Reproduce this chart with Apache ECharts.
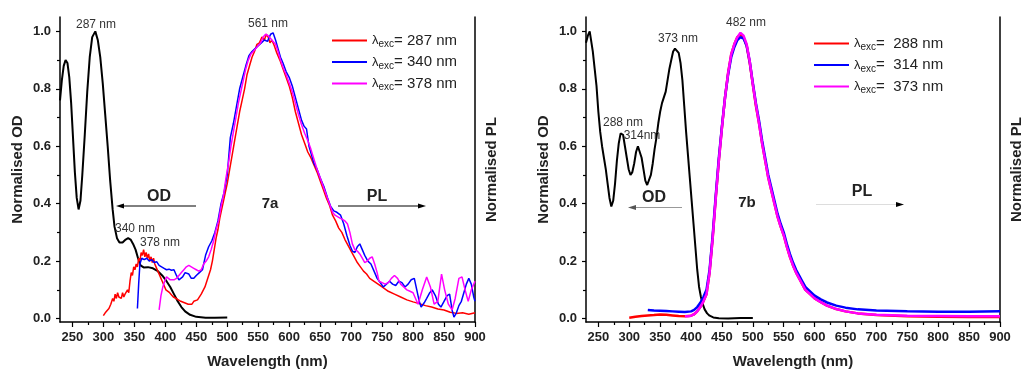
<!DOCTYPE html>
<html>
<head>
<meta charset="utf-8">
<script src="https://cdn.jsdelivr.net/npm/echarts@6/dist/echarts.min.js"></script>
<style>
html,body{margin:0;padding:0;background:#fff}
#main{width:1024px;height:377px}
</style>
</head>
<body>
<div id="main"></div>
<script>
// tick positions
var xTicks = [250,300,350,400,450,500,550,600,650,700,750,800,850,900];
var xMinor = [275,325,375,425,475,525,575,625,675,725,775,825,875];
var yTicks = [0,0.2,0.4,0.6,0.8,1.0];
var yMinor = [0.1,0.3,0.5,0.7,0.9];

// 7a: absorption (OD)
var odA = [[230,0.76],[233,0.83],[236,0.88],[239,0.90],[242,0.89],[245,0.84],[248,0.75],[251,0.63],[254,0.51],[257,0.42],[260,0.38],[263,0.41],[266,0.50],[270,0.64],[274,0.79],[278,0.91],[282,0.98],[287,1.0],[291,0.97],[295,0.91],[299,0.82],[303,0.71],[307,0.60],[311,0.48],[315,0.38],[318,0.32],[322,0.28],[326,0.265],[331,0.265],[336,0.275],[340,0.28],[344,0.275],[348,0.26],[352,0.24],[356,0.21],[360,0.185],[365,0.178],[372,0.179],[380,0.175],[388,0.165],[395,0.15],[402,0.13],[408,0.11],[414,0.085],[420,0.06],[426,0.04],[432,0.025],[440,0.013],[450,0.006],[465,0.003],[480,0.003],[500,0.004]];

// 7a: PL, exc 287 nm
var plA287 = [[300,0.01],[303,0.02],[306,0.015],[309,0.035],[312,0.05],[315,0.07],[317,0.06],[319,0.085],[321,0.07],[323,0.09],[325,0.075],[327,0.08],[329,0.07],[331,0.09],[333,0.075],[335,0.085],[337,0.08],[339,0.1],[341,0.09],[343,0.13],[345,0.16],[347,0.15],[349,0.18],[351,0.17],[353,0.19],[355,0.18],[357,0.21],[359,0.2],[361,0.23],[363,0.22],[365,0.24],[367,0.215],[369,0.23],[371,0.21],[373,0.225],[375,0.2],[377,0.215],[379,0.195],[381,0.21],[383,0.19],[385,0.18],[387,0.17],[389,0.16],[391,0.15],[393,0.14],[395,0.13],[398,0.115],[401,0.1],[404,0.1],[407,0.09],[410,0.085],[413,0.075],[416,0.075],[419,0.068],[422,0.07],[425,0.06],[428,0.065],[431,0.055],[434,0.06],[437,0.05],[440,0.055],[443,0.05],[446,0.06],[449,0.058],[452,0.065],[455,0.07],[458,0.085],[461,0.09],[464,0.11],[467,0.13],[470,0.15],[473,0.17],[476,0.2],[479,0.24],[482,0.28],[485,0.31],[488,0.35],[491,0.38],[494,0.41],[497,0.44],[500,0.47],[504,0.52],[508,0.57],[512,0.62],[516,0.67],[520,0.72],[524,0.76],[528,0.80],[532,0.85],[536,0.88],[540,0.91],[544,0.93],[548,0.955],[552,0.96],[556,0.98],[560,0.97],[563,0.99],[566,0.98],[569,0.96],[572,0.97],[576,0.95],[580,0.925],[585,0.9],[590,0.87],[595,0.84],[600,0.81],[605,0.77],[610,0.72],[615,0.68],[620,0.64],[625,0.61],[630,0.58],[635,0.56],[640,0.535],[645,0.51],[650,0.48],[655,0.45],[660,0.42],[665,0.395],[670,0.36],[675,0.34],[680,0.315],[685,0.3],[690,0.275],[695,0.255],[700,0.235],[705,0.215],[710,0.195],[715,0.18],[720,0.165],[725,0.155],[730,0.14],[740,0.125],[750,0.11],[760,0.095],[770,0.085],[780,0.075],[790,0.065],[800,0.058],[810,0.052],[820,0.045],[830,0.04],[840,0.033],[850,0.03],[860,0.022],[870,0.018],[880,0.02],[890,0.015],[900,0.02]];

// 7a: PL, exc 340 nm
var plA340 = [[355,0.035],[357,0.12],[359,0.19],[362,0.21],[366,0.205],[370,0.21],[374,0.2],[378,0.205],[382,0.195],[386,0.198],[390,0.185],[394,0.18],[398,0.175],[402,0.17],[406,0.172],[410,0.168],[414,0.17],[418,0.15],[422,0.135],[425,0.135],[428,0.145],[432,0.16],[435,0.165],[438,0.155],[442,0.14],[446,0.14],[450,0.15],[455,0.16],[460,0.17],[465,0.22],[470,0.25],[475,0.27],[480,0.3],[485,0.34],[490,0.4],[495,0.44],[500,0.5],[505,0.63],[510,0.68],[515,0.74],[520,0.8],[525,0.84],[530,0.88],[535,0.915],[540,0.93],[545,0.94],[550,0.95],[555,0.96],[560,0.97],[565,0.965],[570,0.99],[574,0.995],[578,0.97],[582,0.94],[586,0.91],[590,0.89],[595,0.86],[600,0.84],[605,0.81],[610,0.77],[615,0.73],[620,0.69],[624,0.67],[628,0.66],[632,0.6],[636,0.57],[640,0.54],[645,0.52],[650,0.49],[656,0.46],[662,0.42],[667,0.39],[672,0.375],[677,0.37],[683,0.36],[688,0.33],[693,0.29],[698,0.255],[702,0.235],[706,0.23],[710,0.25],[714,0.26],[718,0.24],[722,0.22],[727,0.2],[732,0.19],[737,0.165],[742,0.14],[747,0.125],[752,0.11],[757,0.12],[762,0.13],[767,0.12],[772,0.115],[777,0.13],[782,0.125],[787,0.11],[792,0.12],[797,0.135],[802,0.14],[806,0.1],[810,0.06],[813,0.04],[818,0.055],[822,0.07],[827,0.09],[831,0.1],[836,0.08],[841,0.05],[845,0.04],[850,0.06],[855,0.08],[859,0.085],[863,0.03],[866,0.005],[870,0.02],[874,0.045],[878,0.06],[882,0.09],[886,0.12],[890,0.14],[894,0.12],[898,0.075],[900,0.06]];

// 7a: PL, exc 378 nm
var plA378 = [[390,0.03],[393,0.08],[396,0.11],[399,0.13],[402,0.145],[405,0.14],[408,0.135],[411,0.13],[414,0.135],[418,0.14],[422,0.15],[426,0.16],[430,0.17],[434,0.18],[438,0.185],[442,0.18],[446,0.175],[450,0.17],[454,0.165],[458,0.17],[462,0.19],[466,0.2],[470,0.215],[474,0.24],[478,0.27],[482,0.31],[486,0.34],[490,0.39],[494,0.43],[498,0.49],[502,0.54],[506,0.6],[510,0.65],[514,0.7],[518,0.75],[522,0.79],[526,0.83],[530,0.87],[534,0.9],[538,0.92],[542,0.93],[546,0.94],[550,0.95],[554,0.96],[558,0.98],[562,0.99],[566,0.985],[570,0.975],[574,0.965],[578,0.955],[582,0.93],[586,0.9],[590,0.875],[595,0.85],[600,0.82],[605,0.79],[610,0.75],[615,0.71],[620,0.675],[625,0.645],[630,0.62],[635,0.59],[640,0.555],[645,0.52],[650,0.49],[655,0.46],[660,0.43],[665,0.4],[670,0.37],[674,0.36],[678,0.355],[682,0.35],[686,0.345],[690,0.34],[694,0.33],[698,0.3],[702,0.26],[706,0.24],[710,0.235],[714,0.225],[718,0.21],[722,0.195],[726,0.2],[730,0.21],[734,0.215],[738,0.19],[742,0.16],[745,0.13],[750,0.125],[755,0.12],[760,0.125],[765,0.14],[770,0.15],[775,0.14],[780,0.12],[785,0.11],[790,0.1],[795,0.095],[800,0.09],[808,0.05],[815,0.1],[822,0.145],[828,0.11],[834,0.05],[840,0.06],[846,0.155],[851,0.1],[857,0.05],[863,0.03],[868,0.07],[874,0.14],[879,0.145],[884,0.1],[889,0.06],[894,0.1],[900,0.13]];

// 7b: absorption (OD)
var odB = [[230,0.96],[233,0.985],[236,1.0],[238,0.995],[241,0.93],[244,0.87],[247,0.81],[250,0.72],[253,0.65],[256,0.6],[259,0.56],[262,0.52],[265,0.47],[268,0.42],[271,0.39],[274,0.41],[277,0.47],[280,0.55],[283,0.61],[286,0.645],[288,0.65],[290,0.64],[293,0.6],[296,0.56],[299,0.52],[302,0.50],[305,0.51],[308,0.54],[311,0.58],[314,0.6],[317,0.595],[320,0.56],[323,0.52],[326,0.48],[329,0.465],[332,0.47],[335,0.5],[338,0.54],[341,0.59],[344,0.63],[347,0.68],[350,0.72],[353,0.75],[356,0.77],[359,0.79],[362,0.83],[365,0.87],[368,0.9],[371,0.93],[374,0.94],[377,0.94],[380,0.925],[383,0.89],[386,0.83],[389,0.74],[392,0.65],[395,0.57],[398,0.49],[401,0.41],[404,0.33],[407,0.25],[410,0.17],[413,0.11],[416,0.075],[419,0.05],[422,0.032],[426,0.018],[430,0.01],[436,0.004],[445,0.001],[460,0.0],[480,0.002],[500,0.002]];

// 7b: PL, exc 288 nm
var plB288 = [[300,0.003],[310,0.006],[320,0.009],[330,0.011],[340,0.012],[350,0.014],[360,0.013],[370,0.011],[380,0.009],[390,0.008],[400,0.01],[405,0.015],[410,0.025],[415,0.04],[420,0.06],[425,0.085],[430,0.16],[435,0.28],[440,0.42],[445,0.55],[450,0.665],[455,0.77],[460,0.855],[465,0.92],[470,0.955],[475,0.98],[480,0.99],[485,0.98],[490,0.95],[495,0.89],[500,0.815],[505,0.74],[510,0.68],[515,0.61],[520,0.55],[525,0.49],[530,0.445],[535,0.4],[540,0.355],[545,0.32],[550,0.29],[555,0.25],[560,0.215],[565,0.185],[570,0.16],[575,0.14],[580,0.12],[585,0.1],[590,0.09],[600,0.07],[610,0.057],[620,0.045],[635,0.033],[650,0.025],[670,0.018],[700,0.012],[750,0.008],[800,0.006],[850,0.005],[900,0.005]];

// 7b: PL, exc 314 nm
var plB314 = [[330,0.03],[340,0.028],[350,0.027],[360,0.026],[370,0.025],[380,0.024],[390,0.023],[400,0.025],[405,0.03],[410,0.04],[415,0.055],[420,0.075],[425,0.1],[430,0.17],[435,0.29],[440,0.43],[445,0.56],[450,0.67],[455,0.77],[460,0.85],[465,0.91],[470,0.945],[475,0.97],[480,0.98],[485,0.975],[490,0.95],[495,0.895],[500,0.82],[505,0.75],[510,0.69],[515,0.62],[520,0.56],[525,0.5],[530,0.455],[535,0.41],[540,0.365],[545,0.33],[550,0.3],[555,0.26],[560,0.225],[565,0.195],[570,0.17],[575,0.15],[580,0.13],[585,0.11],[590,0.1],[600,0.08],[610,0.067],[620,0.056],[635,0.045],[650,0.038],[670,0.032],[700,0.028],[750,0.025],[800,0.024],[850,0.024],[900,0.025]];

// 7b: PL, exc 373 nm
var plB373 = [[390,0.008],[395,0.008],[400,0.01],[405,0.015],[410,0.025],[415,0.04],[420,0.06],[425,0.085],[430,0.16],[435,0.28],[440,0.42],[445,0.55],[450,0.665],[455,0.77],[460,0.855],[465,0.92],[470,0.955],[475,0.98],[480,0.995],[485,0.985],[490,0.955],[495,0.895],[500,0.815],[505,0.745],[510,0.68],[515,0.61],[520,0.55],[525,0.49],[530,0.445],[535,0.4],[540,0.355],[545,0.32],[550,0.29],[555,0.25],[560,0.215],[565,0.185],[570,0.16],[575,0.14],[580,0.12],[585,0.1],[590,0.09],[600,0.07],[610,0.057],[620,0.045],[635,0.033],[650,0.025],[670,0.018],[700,0.013],[750,0.01],[800,0.009],[850,0.008],[900,0.008]];

var legendText = {
    a287: '= 287 nm', a340: '= 340 nm', a378: '= 378 nm',
    b288: '=  288 nm', b314: '=  314 nm', b373: '=  373 nm'
};

var FONT = 'Liberation Sans, Arial, sans-serif';
var INK = '#222';

var myChart = echarts.init(document.getElementById('main'));

function mainX(g) {
    return {
        type: 'value', gridIndex: g, min: 230, max: 900, position: 'bottom',
        name: 'Wavelength (nm)', nameLocation: 'middle', nameGap: 32,
        nameTextStyle: {fontFamily: FONT, fontWeight: 'bold', fontSize: 15, color: INK},
        axisLine: {show: true, onZero: false, lineStyle: {color: '#000', width: 1.5}},
        axisTick: {show: true, length: 5, customValues: xTicks, lineStyle: {color: '#000', width: 1.2}},
        axisLabel: {customValues: xTicks, margin: 9, fontFamily: FONT, fontWeight: 'bold', fontSize: 13, color: INK},
        splitLine: {show: false}
    };
}
// second bottom axis only for the short in-between ticks
function minorX(g) {
    return {
        type: 'value', gridIndex: g, min: 230, max: 900, position: 'bottom',
        axisLine: {show: false, onZero: false},
        axisTick: {show: true, length: 3, customValues: xMinor, lineStyle: {color: '#000', width: 1.2}},
        axisLabel: {show: false},
        splitLine: {show: false}
    };
}
function mainY(g) {
    return {
        type: 'value', gridIndex: g, min: -0.012, max: 1.05, position: 'left',
        name: 'Normalised OD', nameLocation: 'middle', nameGap: 35, nameRotate: 90,
        nameTextStyle: {fontFamily: FONT, fontWeight: 'bold', fontSize: 15, color: INK},
        axisLine: {show: true, onZero: false, lineStyle: {color: '#000', width: 1.5}},
        axisTick: {show: true, length: 4, customValues: yTicks, lineStyle: {color: '#000', width: 1.2}},
        axisLabel: {customValues: yTicks, margin: 9, fontFamily: FONT, fontWeight: 'bold', fontSize: 13, color: INK,
            formatter: function (v) { return v.toFixed(1); }},
        splitLine: {show: false}
    };
}
function minorY(g) {
    return {
        type: 'value', gridIndex: g, min: -0.012, max: 1.05, position: 'left',
        axisLine: {show: false, onZero: false},
        axisTick: {show: true, length: 3, customValues: yMinor, lineStyle: {color: '#000', width: 1.2}},
        axisLabel: {show: false},
        splitLine: {show: false}
    };
}
function rightY(g) {
    return {
        type: 'value', gridIndex: g, min: -0.012, max: 1.05, position: 'right',
        name: 'Normalised PL', nameLocation: 'middle', nameGap: 9, nameRotate: 90,
        nameTextStyle: {fontFamily: FONT, fontWeight: 'bold', fontSize: 15, color: INK},
        axisLine: {show: true, onZero: false, lineStyle: {color: '#000', width: 1.5}},
        axisTick: {show: false},
        axisLabel: {show: false},
        splitLine: {show: false}
    };
}
function line(name, data, color, width, xi, yi) {
    return {
        name: name, type: 'line', data: data, xAxisIndex: xi, yAxisIndex: yi,
        showSymbol: false, symbol: 'none', color: color,
        lineStyle: {color: color, width: width}, z: 3
    };
}
function legendFor(names, left, top) {
    return {
        data: names, orient: 'vertical', left: left, top: top,
        icon: 'rect', itemWidth: 35, itemHeight: 2, itemGap: 5,
        selectedMode: false,
        formatter: function (n) { return '{l|λ}{s|exc}{n|' + legendText[n] + '}'; },
        textStyle: {
            fontFamily: FONT, color: INK,
            rich: {
                l: {fontFamily: FONT, fontSize: 13, color: INK, lineHeight: 18},
                s: {fontFamily: FONT, fontSize: 10, color: INK, lineHeight: 10, verticalAlign: 'bottom'},
                n: {fontFamily: FONT, fontSize: 15, color: INK, lineHeight: 18}
            }
        }
    };
}
function txt(s, x, y, size, bold, color) {
    return {
        type: 'text', z: 10,
        style: {text: s, x: x, y: y, align: 'center', verticalAlign: 'middle',
            font: (bold ? 'bold ' : '') + size + 'px ' + FONT, fill: color || INK}
    };
}
function arrow(x1, x2, y, color, headColor) {
    var dir = x2 > x1 ? 1 : -1;
    return [
        {type: 'line', z: 10, shape: {x1: x1, y1: y, x2: x2 - dir * 6, y2: y}, style: {stroke: color, lineWidth: 1}},
        {type: 'polygon', z: 10, shape: {points: [[x2, y], [x2 - dir * 8, y - 2.5], [x2 - dir * 8, y + 2.5]]},
            style: {fill: headColor || color}}
    ];
}

myChart.setOption({
    animation: false,
    backgroundColor: '#fff',
    grid: [
        {left: 60, right: 549, top: 17, bottom: 55, outerBoundsMode: 'none'},
        {left: 586, right: 24, top: 17, bottom: 55, outerBoundsMode: 'none'}
    ],
    xAxis: [mainX(0), minorX(0), mainX(1), minorX(1)],
    yAxis: [mainY(0), minorY(0), rightY(0), mainY(1), minorY(1), rightY(1)],
    legend: [
        legendFor(['a287', 'a340', 'a378'], 327, 28),
        legendFor(['b288', 'b314', 'b373'], 809, 31)
    ],
    series: [
        line('odA', odA, '#000', 2, 0, 0),
        line('a287', plA287, '#ff0000', 1.5, 0, 0),
        line('a340', plA340, '#0000ff', 1.5, 0, 0),
        line('a378', plA378, '#ff00ff', 1.5, 0, 0),
        line('odB', odB, '#000', 2, 2, 3),
        line('b288', plB288, '#ff0000', 2.5, 2, 3),
        line('b314', plB314, '#0000ff', 2.5, 2, 3),
        line('b373', plB373, '#ff00ff', 2.5, 2, 3)
    ],
    graphic: [
        txt('287 nm', 96, 25, 12, false, '#333'),
        txt('561 nm', 268, 24, 12, false, '#333'),
        txt('340 nm', 135, 229, 12, false, '#333'),
        txt('378 nm', 160, 243, 12, false, '#333'),
        txt('OD', 159, 197, 16, true, INK),
        txt('7a', 270, 204, 15, true, INK),
        txt('PL', 377, 197, 16, true, INK),
        txt('373 nm', 678, 39, 12, false, '#333'),
        txt('288 nm', 623, 123, 12, false, '#333'),
        txt('314nm', 642, 136, 12, false, '#333'),
        txt('482 nm', 746, 23, 12, false, '#333'),
        txt('OD', 654, 198, 16, true, INK),
        txt('7b', 747, 203, 15, true, INK),
        txt('PL', 862, 192, 16, true, INK)
    ].concat(arrow(196, 116, 206, '#000'))
     .concat(arrow(338, 426, 206, '#000'))
     .concat(arrow(682, 628, 207.5, '#999', '#555'))
     .concat(arrow(816, 904, 204.5, '#ddd', '#000'))
});
</script>
</body>
</html>
